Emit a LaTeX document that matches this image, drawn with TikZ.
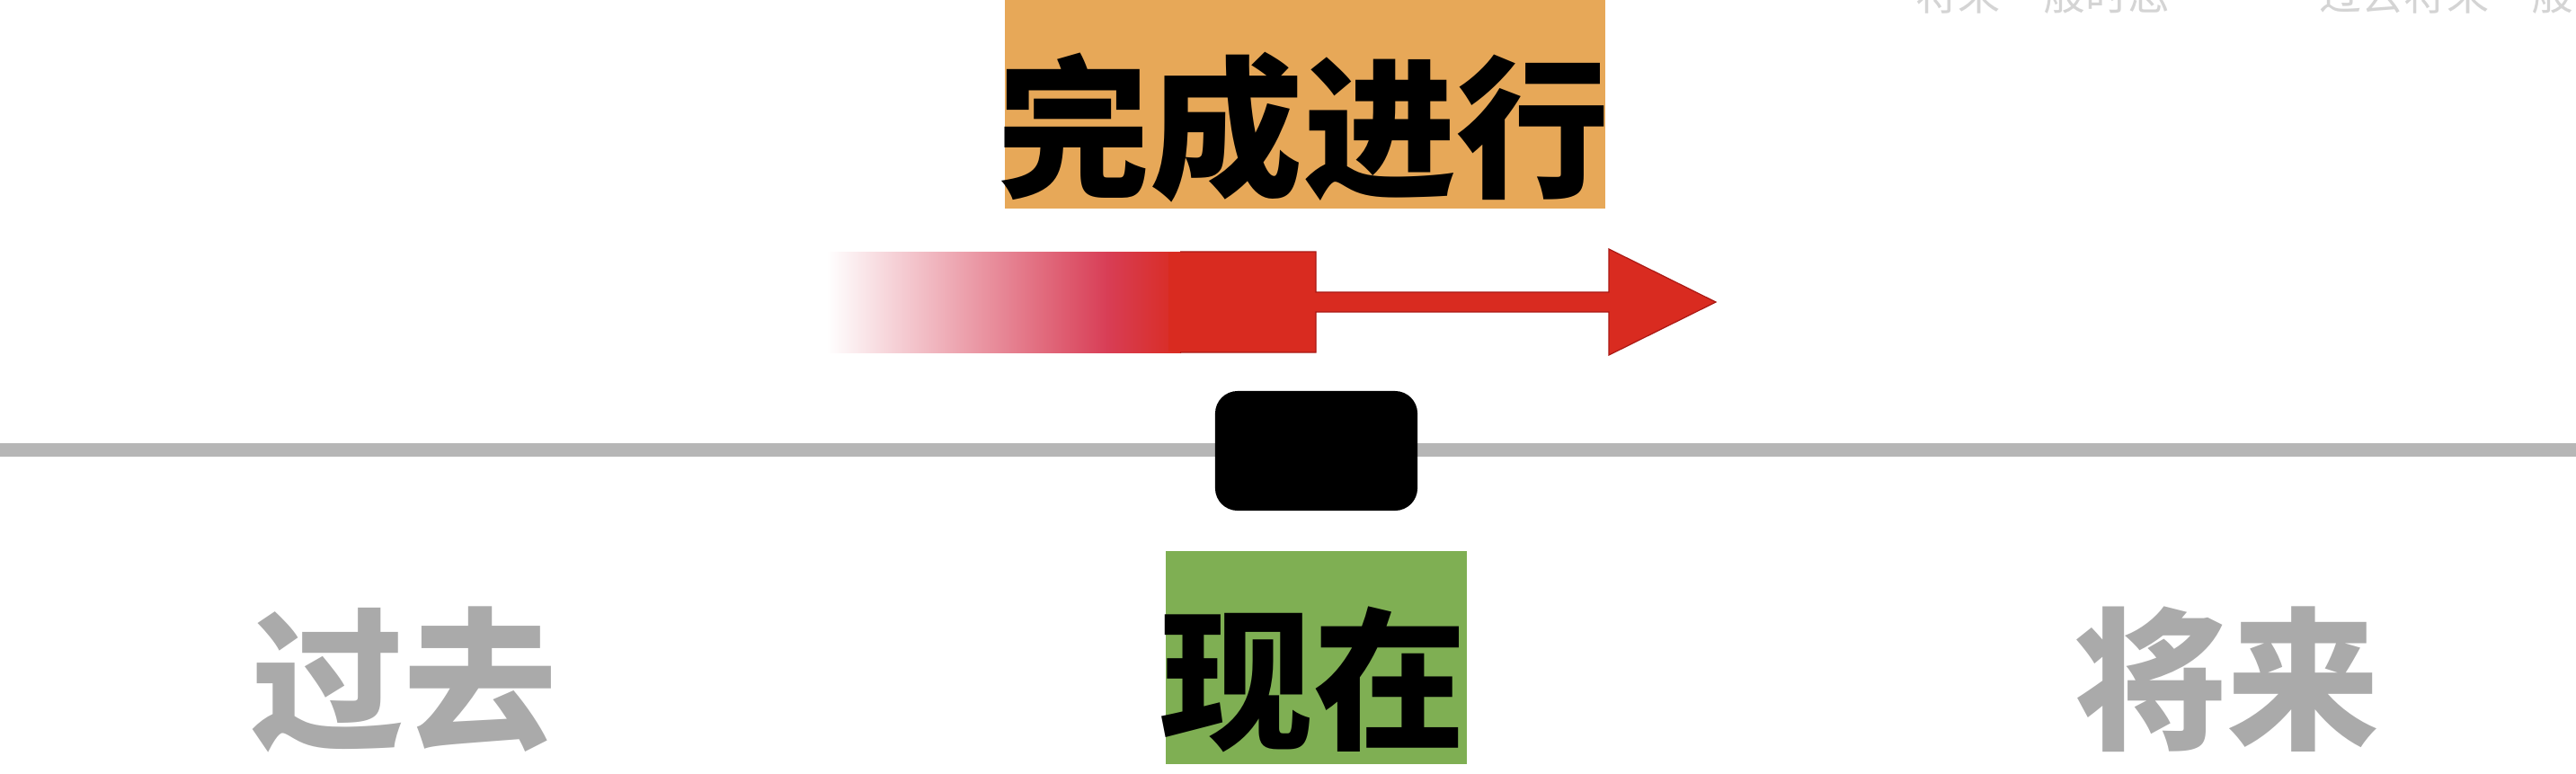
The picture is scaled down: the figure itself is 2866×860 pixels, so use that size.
\documentclass[tikz,border=0pt]{standalone}
\usepackage{fontspec}
\newfontfamily\cjk{Noto Sans CJK SC}
\definecolor{arrowred}{RGB}{217,43,32}
\definecolor{arrowpink}{RGB}{216,62,86}
\definecolor{arrowedge}{RGB}{170,25,20}
\definecolor{orangebg}{RGB}{231,168,88}
\definecolor{greenbg}{RGB}{127,175,83}
\definecolor{timeline}{RGB}{182,182,182}
\definecolor{labelgray}{RGB}{170,170,170}
\definecolor{faintgray}{RGB}{212,212,212}
\begin{document}
\begin{tikzpicture}[x=0.01cm,y=-0.01cm,
  bigtext/.style={inner sep=0pt, font=\cjk\bfseries\fontsize{48.4pt}{50pt}\selectfont},
  faint/.style={inner sep=0pt, anchor=base west, text=faintgray, font=\cjk\fontsize{13.4pt}{14pt}\selectfont},
  labelbox/.style={draw=none, inner sep=0pt},
]
\useasboundingbox (0,0) rectangle (2866,860);
\fill[white] (0,0) rectangle (2866,860);
\begin{scope}
\clip (0,0) rectangle (2866,860);
% faint texts cut at the top
\node[faint] (f1) at (2131,11) {将来一般时态};
\node[faint] (f2) at (2580,11) {过去将来一般时态};

% timeline
\coordinate (lineL) at (0,500.5);
\coordinate (lineR) at (2866,500.5);
\draw[timeline, line width=0.15cm] (lineL) -- (lineR);

% now marker
\node[labelbox, fill=black, rounded corners=0.25cm, minimum width=2.25cm, minimum height=1.33cm] (now) at (1464.5,501.5) {};

% top label
\node[labelbox, fill=orangebg, minimum width=6.68cm, minimum height=2.32cm] (obox) at (1452,116) {};
\node[bigtext] (otext) at (1450,142) {完成进行};

% bottom labels
\node[labelbox, fill=greenbg, minimum width=3.35cm, minimum height=2.37cm] (gbox) at (1464.5,731.5) {};
\node[bigtext] (now-text) at (1461,756) {现在};
\node[bigtext, text=labelgray] (past) at (449.5,756) {过去};
\node[bigtext, text=labelgray] (future) at (2477.5,756) {将来};

% arrow: fading tail
\shade[left color=white, right color=arrowpink] (920,280) rectangle (1232,392);
\shade[left color=arrowpink, right color=arrowred] (1231,280) rectangle (1314,392);
% solid block, shaft and head
\fill[arrowred, draw=arrowedge, line width=0.012cm]
  (1313,280) -- (1464,280) -- (1464,325) -- (1790,325) -- (1790,277)
  -- (1909,336) -- (1790,395) -- (1790,347) -- (1464,347) -- (1464,392)
  -- (1313,392);
\fill[arrowred] (1300,281) rectangle (1320,391);
\end{scope}
\end{tikzpicture}
\end{document}
